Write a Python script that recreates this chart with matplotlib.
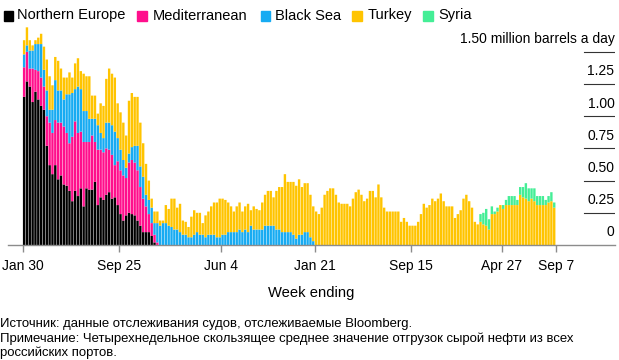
import numpy as np
import pandas as pd
import matplotlib
matplotlib.use('Agg')
import matplotlib.pyplot as plt
from matplotlib.patches import Rectangle
import matplotlib.transforms as mtransforms

plt.rcParams['font.family'] = ['Liberation Sans', 'DejaVu Sans']

# Russian seaborne crude shipments by destination region,
# million barrels a day (4-week average), weekly from the week ending Jan 30 2022
northern_europe = [1.15, 1.27, 1.23, 1.11, 1.19, 1.13, 1.08, 1.05, 0.77, 0.62,
                   0.55, 0.62, 0.51, 0.54, 0.47, 0.46, 0.42, 0.34, 0.42, 0.38,
                   0.44, 0.30, 0.44, 0.43, 0.43, 0.49, 0.31, 0.37, 0.35, 0.39,
                   0.41, 0.36, 0.37, 0.31, 0.24, 0.19, 0.23, 0.25, 0.24, 0.23,
                   0.19, 0.15, 0.10, 0.10, 0.10, 0.07, 0.02, 0.0]
mediterranean = [0.23, 0.23, 0.14, 0.26, 0.17, 0.22, 0.22, 0.18, 0.23, 0.33,
                 0.32, 0.35, 0.44, 0.41, 0.45, 0.41, 0.37, 0.50, 0.54, 0.49,
                 0.44, 0.50, 0.36, 0.37, 0.42, 0.31, 0.43, 0.37, 0.37, 0.36,
                 0.33, 0.34, 0.25, 0.34, 0.34, 0.35, 0.29, 0.39, 0.42, 0.41,
                 0.39, 0.30, 0.26, 0.20, 0.14, 0.10, 0.06, 0.02]
black_sea = [0.10, 0.05, 0.14, 0.14, 0.20, 0.21, 0.26, 0.13, 0.20, 0.10,
             0.18, 0.31, 0.25, 0.25, 0.21, 0.30, 0.38, 0.34, 0.25, 0.36,
             0.33, 0.24, 0.24, 0.18, 0.13, 0.18, 0.19, 0.13, 0.11, 0.20,
             0.21, 0.23, 0.26, 0.18, 0.16, 0.12, 0.08, 0.07, 0.10, 0.13,
             0.19, 0.16, 0.17, 0.09, 0.11, 0.12, 0.09, 0.15,
             0.15, 0.17, 0.17, 0.15, 0.14, 0.12, 0.12, 0.10, 0.08, 0.08,
             0.06, 0.06, 0.08, 0.10, 0.08, 0.08, 0.06, 0.08, 0.08, 0.08,
             0.06, 0.06, 0.08, 0.08, 0.10, 0.10, 0.10, 0.10, 0.12, 0.10,
             0.12, 0.10, 0.15, 0.12, 0.12, 0.12, 0.12, 0.15, 0.15, 0.15,
             0.15, 0.12, 0.12, 0.10, 0.10, 0.10, 0.10, 0.08, 0.05, 0.08,
             0.08, 0.10, 0.10, 0.06, 0.03]
turkey = [0.11, 0.14, 0.08, 0.04, 0.03, 0.05, 0.08, 0.18, 0.24, 0.26,
          0.19, 0.18, 0.23, 0.17, 0.17, 0.13, 0.17, 0.12, 0.20, 0.22,
          0.14, 0.29, 0.27, 0.33, 0.18, 0.18, 0.09, 0.23, 0.25, 0.34,
          0.42, 0.40, 0.42, 0.27, 0.29, 0.29, 0.25, 0.41, 0.42, 0.38,
          0.38, 0.34, 0.26, 0.24, 0.15, 0.07, 0.09, 0.09,
          0.04, 0.02, 0.14, 0.13, 0.22, 0.24, 0.17, 0.22, 0.11, 0.10,
          0.08, 0.16, 0.19, 0.15, 0.17, 0.09, 0.17, 0.18, 0.22, 0.25,
          0.27, 0.30, 0.28, 0.27, 0.23, 0.20, 0.16, 0.20, 0.21, 0.16,
          0.18, 0.22, 0.12, 0.18, 0.16, 0.15, 0.21, 0.24, 0.27, 0.27,
          0.22, 0.30, 0.33, 0.35, 0.45, 0.39, 0.39, 0.41, 0.41, 0.43,
          0.37, 0.38, 0.38, 0.33, 0.27,
          0.26, 0.24, 0.29, 0.39, 0.42, 0.44, 0.44, 0.39, 0.33, 0.32,
          0.32, 0.32, 0.30, 0.36, 0.41, 0.43, 0.39, 0.34, 0.36, 0.42,
          0.42, 0.37, 0.47, 0.37, 0.29, 0.26, 0.26, 0.26, 0.26, 0.26,
          0.18, 0.21, 0.18, 0.15, 0.15, 0.15, 0.18, 0.24, 0.32, 0.29,
          0.31, 0.36, 0.34, 0.36, 0.40, 0.34, 0.30, 0.30, 0.30, 0.21,
          0.24, 0.27, 0.36, 0.39, 0.34, 0.29, 0.18, 0.16, 0.18, 0.16,
          0.15, 0.12, 0.24, 0.24, 0.26, 0.31, 0.28, 0.31, 0.31, 0.31,
          0.31, 0.31, 0.39, 0.37, 0.36, 0.34, 0.36, 0.34, 0.31, 0.31,
          0.31, 0.31, 0.33, 0.34, 0.29]
# Syria only shows up in the last 27 weeks
syria = [0.06, 0.09, 0.13, 0.08, 0.06, 0.02, 0.03, 0.0, 0.03, 0.04,
         0.07, 0.07, 0.07, 0.04, 0.06, 0.08, 0.12, 0.10, 0.08, 0.10,
         0.07, 0.07, 0.07, 0.04, 0.05, 0.07, 0.04]

series_names = ['Northern Europe', 'Mediterranean', 'Black Sea', 'Turkey', 'Syria']
colors = ['#000000', '#ff0f8c', '#17abf2', '#ffc400', '#44ee96']

tick_dates = ['2022-01-30', '2022-09-25', '2023-06-04', '2024-01-21',
              '2024-09-15', '2025-04-27', '2025-09-07']
tick_labels = ['Jan 30', 'Sep 25', 'Jun 4', 'Jan 21', 'Sep 15', 'Apr 27', 'Sep 7']
y_ticks = [0, 0.25, 0.5, 0.75, 1.0, 1.25, 1.5]
y_labels = ['0', '0.25', '0.50', '0.75', '1.00', '1.25', '1.50 million barrels a day']

n = len(turkey)


def pad(vals, front=0):
    out = np.zeros(n)
    out[front:front + len(vals)] = vals
    return out


data = [pad(northern_europe), pad(mediterranean), pad(black_sea),
        np.array(turkey), pad(syria, n - len(syria))]
weeks = pd.date_range('2022-01-30', periods=n, freq='7D')
start = weeks[0]

W, H = 619, 360
fig = plt.figure(figsize=(W / 100, H / 100), dpi=100)
ax = fig.add_axes([8.3 / W, 115 / H, 606.2 / W, 225.4 / H])

bottom = np.zeros(n)
for vals, c in zip(data, colors):
    ax.bar(weeks + pd.Timedelta(hours=12), vals, width=5.9, align='edge',
           bottom=bottom, color=c, linewidth=0, snap=False)
    bottom += vals

ax.set_xlim(start - pd.Timedelta(days=35.6), start + pd.Timedelta(days=1461.3))
ax.set_ylim(0, 1.75)

for s in ['top', 'left', 'right']:
    ax.spines[s].set_visible(False)
ax.spines['bottom'].set_color('#8c8c8c')
ax.spines['bottom'].set_linewidth(1.0)

ax.set_yticks([])
ax.set_xticks(pd.to_datetime(tick_dates))
ax.set_xticklabels(tick_labels)
ax.tick_params(axis='x', length=5, width=1, color='#8c8c8c', pad=5, labelsize=10)

# short grid lines under the right-hand labels, labels sit on top of them
lab_tr = mtransforms.offset_copy(
    mtransforms.blended_transform_factory(ax.transAxes, ax.transData),
    fig=fig, x=0, y=6.2, units='points')
for yv, lab in zip(y_ticks, y_labels):
    if yv > 0:
        ax.axhline(yv, xmin=0.950, xmax=1.0, color='#333333', lw=0.8)
    ax.text(1.0, yv, lab, transform=lab_tr, ha='right', va='baseline', fontsize=10)

fig.text(311 / W, 1 - 293 / H, 'Week ending', ha='center', va='center', fontsize=10.6)

# legend row
sq_x = [3.5, 137, 260.5, 352.3, 423.3]
txt_x = [17, 152.5, 275, 367.3, 438]
for name, c, sx, tx in zip(series_names, colors, sq_x, txt_x):
    fig.patches.append(Rectangle((sx / W, 1 - 20.5 / H), 9.5 / W, 9.5 / H,
                                 transform=fig.transFigure, color=c))
    fig.text(tx / W, 1 - 15.5 / H, name, va='center', fontsize=10.5)

notes = ['Источник: данные отслеживания судов, отслеживаемые Bloomberg.',
         'Примечание: Четырехнедельное скользящее среднее значение отгрузок сырой нефти из всех',
         'российских портов.']
for k, line in enumerate(notes):
    fig.text(0.5 / W, 1 - (324 + 14.5 * k) / H, line, va='center', fontsize=9.45)

fig.savefig('out.png', dpi=100)
